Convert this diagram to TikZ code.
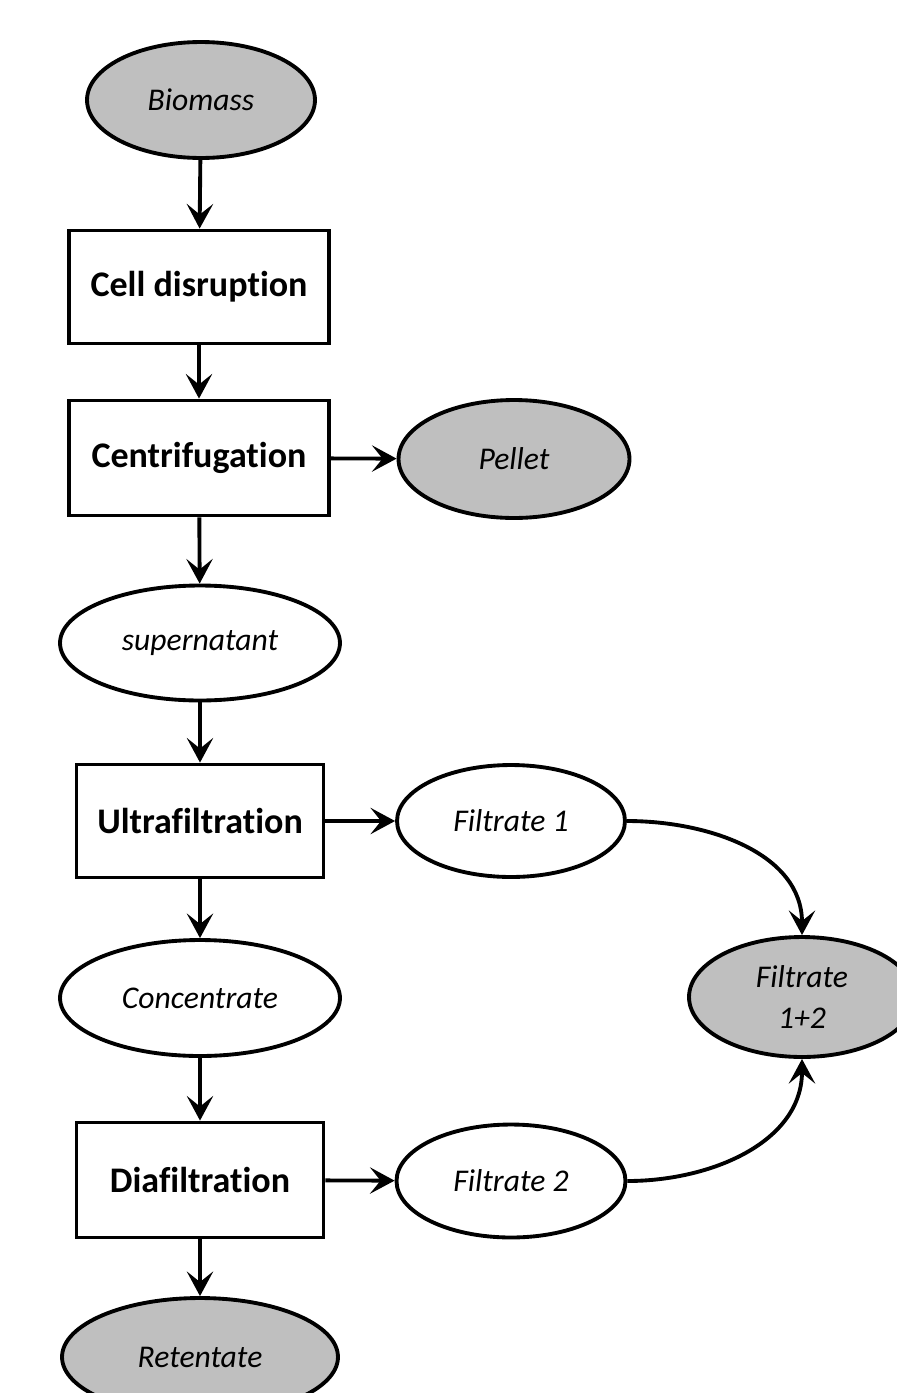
\documentclass[tikz,border=0pt]{standalone}
\usepackage{fontspec}
\setmainfont[Ligatures=NoCommon]{Carlito}
\usetikzlibrary{arrows.meta,shapes.geometric}
\begin{document}
\begin{tikzpicture}[x=0.02cm,y=-0.02cm,
    every node/.style={line width=2.2pt,draw,align=center,inner sep=0pt},
    proc/.style={rectangle,minimum width=5.2cm,minimum height=2.26cm,font=\fontsize{20.5}{24}\selectfont\bfseries},
    stream/.style={ellipse,minimum width=4.56cm,minimum height=2.32cm,font=\fontsize{18}{23}\selectfont\itshape},
    product/.style={stream,fill=black!25},
    flow/.style={line width=2.2pt,-{Stealth[length=14pt,width=15pt,inset=6pt]}}]
  \useasboundingbox (0,0) rectangle (896,1393);
  \node[product] (biomass) at (201,100) {Biomass};
  \node[proc] (disrupt) at (199,287) {Cell disruption};
  \node[proc,minimum height=2.3cm] (centri) at (199,458) {Centrifugation};
  \node[product,minimum width=4.62cm,minimum height=2.36cm] (pellet) at (514,459) {Pellet};
  \node[stream,minimum width=5.6cm,minimum height=2.3cm] (super) at (200,643) {supernatant};
  \node[proc,minimum width=4.94cm] (ultra) at (200,821) {Ultrafiltration};
  \node[stream,minimum height=2.24cm] (filt1) at (511,821) {Filtrate 1};
  \node[stream,minimum width=5.6cm] (conc) at (200,998) {Concentrate};
  \node[product,minimum width=4.52cm,minimum height=2.4cm] (filt12) at (802,997) {Filtrate\\1+2};
  \node[proc,minimum width=4.94cm,minimum height=2.3cm] (dia) at (200,1180) {Diafiltration};
  \node[stream,minimum width=4.58cm,minimum height=2.26cm] (filt2) at (511,1181) {Filtrate 2};
  \node[product,minimum width=5.52cm,minimum height=2.36cm] (reten) at (200,1357) {Retentate};
  % main line
  \foreach \a/\b in {biomass/disrupt,disrupt/centri,centri/super,super/ultra,ultra/conc,conc/dia,dia/reten}
    \draw[flow] (\a) -- (\b);
  % side streams
  \foreach \a/\b in {centri/pellet,ultra/filt1,dia/filt2}
    \draw[flow] (\a) -- (\b);
  \draw[flow] (filt1.east) to[out=0,in=90] (filt12.north);
  \draw[flow] (filt2.east) to[out=0,in=-90] (filt12.south);
\end{tikzpicture}
\end{document}
